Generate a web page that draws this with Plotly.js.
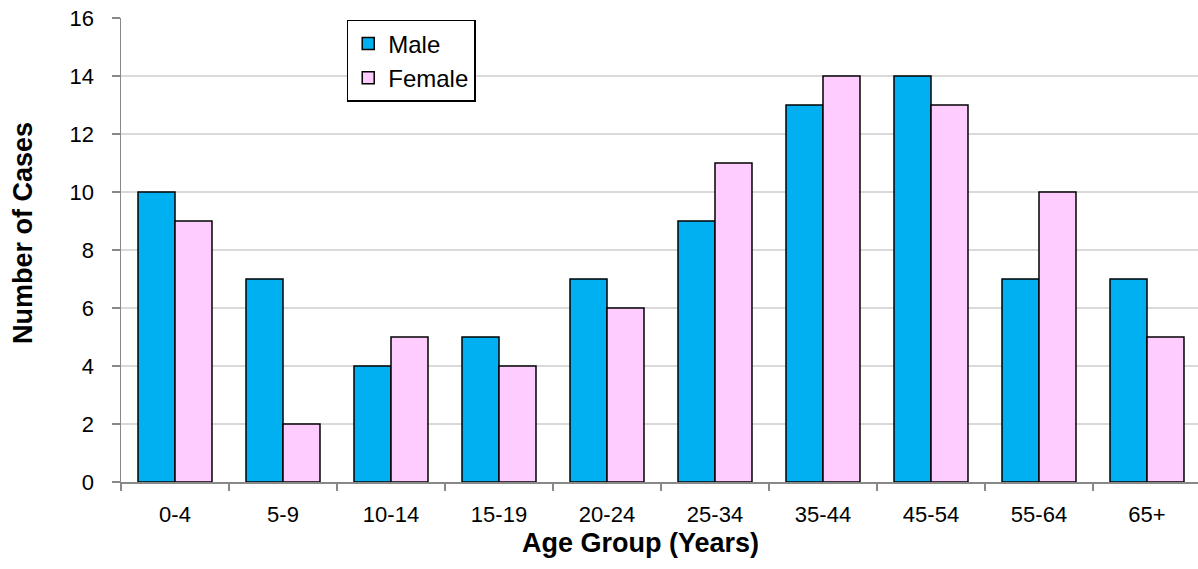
<!DOCTYPE html>
<html>
<head>
<meta charset="utf-8">
<script src="https://cdn.plot.ly/plotly-3.0.1.min.js"></script>
<style>
html, body { margin: 0; padding: 0; overflow: hidden; background: #fff; }
#chart { width: 1202px; height: 569px; }
</style>
</head>
<body>
<div id="chart"></div>
<script>
const categories = ["0-4", "5-9", "10-14", "15-19", "20-24", "25-34", "35-44", "45-54", "55-64", "65+"];
const maleCases = [10, 7, 4, 5, 7, 9, 13, 14, 7, 7];
const femaleCases = [9, 2, 5, 4, 6, 11, 14, 13, 10, 5];
const yTickValues = [0, 2, 4, 6, 8, 10, 12, 14, 16];

const FONT = "Arial, 'Liberation Sans', sans-serif";

const traces = [
  {
    type: "bar", name: "Male", x: categories, y: maleCases,
    marker: { color: "#00B0F0", line: { color: "#000000", width: 1.5 } }
  },
  {
    type: "bar", name: "Female", x: categories, y: femaleCases,
    marker: { color: "#FFCCFF", line: { color: "#000000", width: 1.5 } }
  }
];

const layout = {
  width: 1202, height: 569,
  margin: { l: 121, r: 1, t: 18, b: 87 },
  paper_bgcolor: "#ffffff", plot_bgcolor: "#ffffff",
  font: { family: FONT, size: 22, color: "#000000" },
  barmode: "group", bargap: 0.315, bargroupgap: 0,
  showlegend: true,
  legend: {
    x: 0.209, y: 0.996, xanchor: "left", yanchor: "top",
    bgcolor: "#ffffff", bordercolor: "#000000", borderwidth: 1.5,
    font: { family: FONT, size: 24, color: "#000000" },
    tracegroupgap: 0
  },
  xaxis: {
    type: "category",
    showline: true, linecolor: "#888888", linewidth: 1.5,
    ticks: "outside", tickson: "boundaries", ticklen: 7, tickcolor: "#888888", tickwidth: 1.5,
    showgrid: false, zeroline: false,
    ticklabelstandoff: 12,
    tickfont: { family: FONT, size: 22, color: "#000000" }
  },
  yaxis: {
    range: [0, 16], tickvals: yTickValues, ticktext: yTickValues.map(String),
    showline: true, linecolor: "#888888", linewidth: 1.5,
    ticks: "outside", ticklen: 8, tickcolor: "#888888", tickwidth: 1.5,
    showgrid: true, gridcolor: "#d9d9d9", gridwidth: 1.5,
    zeroline: false,
    ticklabelstandoff: 13,
    tickfont: { family: FONT, size: 22, color: "#000000" }
  },
  annotations: [
    {
      text: "<b>Age Group (Years)</b>", xref: "paper", yref: "paper",
      x: (640 - 121) / 1080, y: -(543 - 482) / 464, xanchor: "center", yanchor: "middle",
      showarrow: false, font: { family: FONT, size: 27, color: "#000000" }
    },
    {
      text: "<b>Number of Cases</b>", xref: "paper", yref: "paper",
      x: (23 - 121) / 1080, y: (482 - 233) / 464, xanchor: "center", yanchor: "middle",
      textangle: -90,
      showarrow: false, font: { family: FONT, size: 27, color: "#000000" }
    }
  ]
};

Plotly.newPlot("chart", traces, layout, { displayModeBar: false, staticPlot: true });
</script>
</body>
</html>
